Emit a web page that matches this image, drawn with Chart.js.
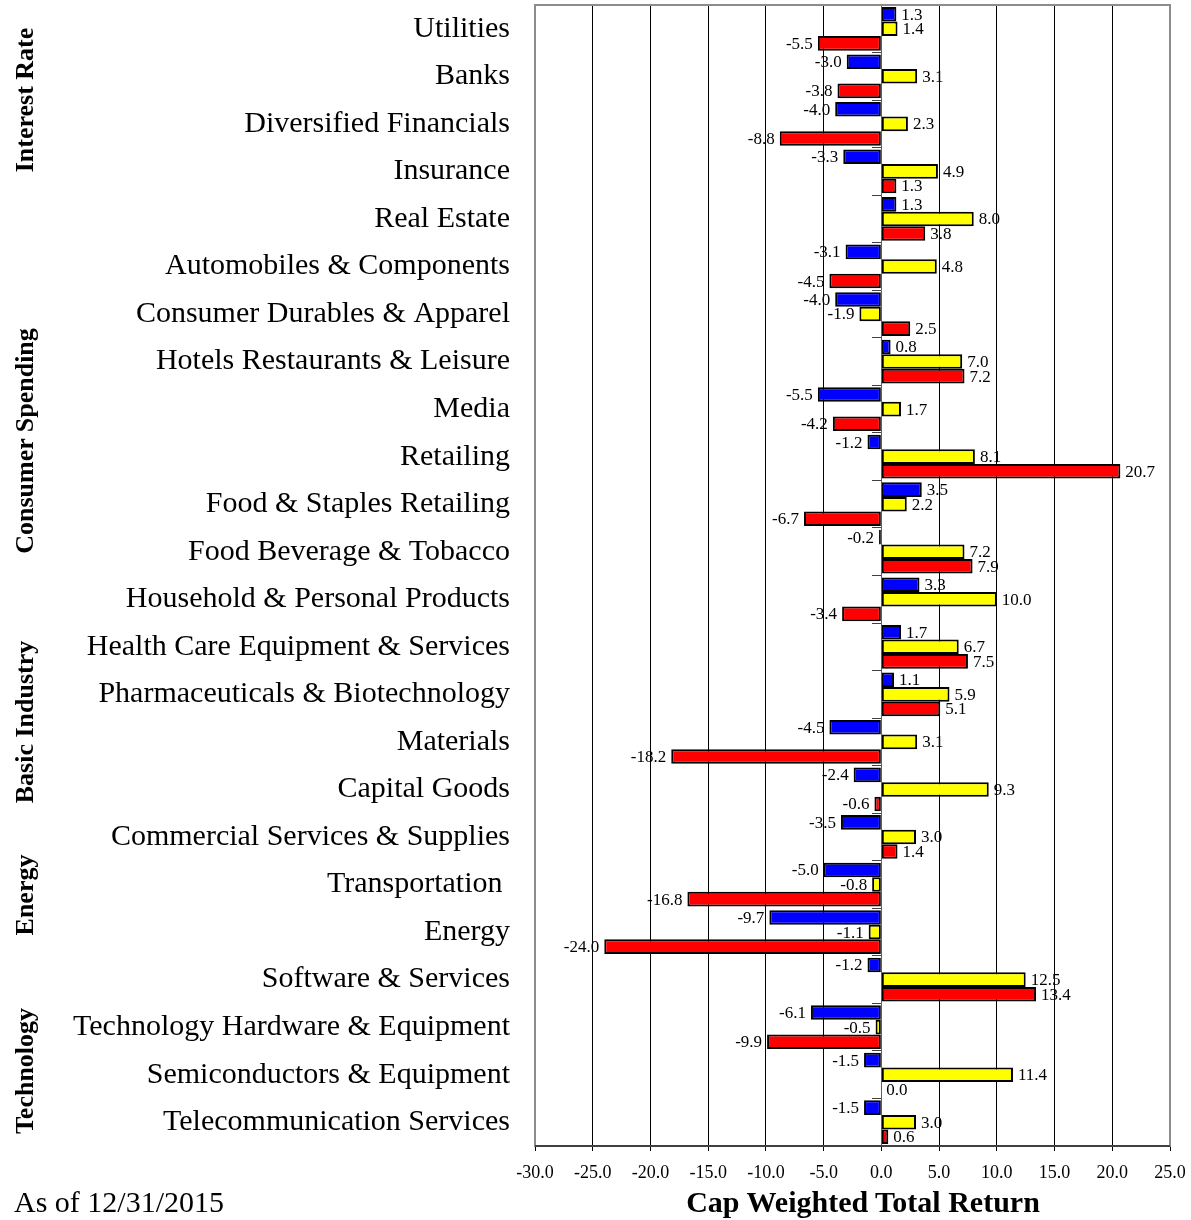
<!DOCTYPE html>
<html>
<head>
<meta charset="utf-8">
<script src="https://cdn.jsdelivr.net/npm/chart.js@4.4.1/dist/chart.umd.min.js"></script>
<style>
  body { margin: 0; background: #fff; }
  #wrap {
    position: relative;
    width: 1191px;
    height: 1220px;
    font-family: 'Liberation Serif', 'Times New Roman', serif;
    color: #000;
  }
  .group {
    position: absolute;
    left: 25px;
    transform: translate(-50%, -50%) rotate(-90deg);
    font-weight: bold;
    font-size: 26px;
    white-space: nowrap;
  }
  #asof { position: absolute; left: 14px; top: 1184px; font-size: 30px; line-height: 36px; }
  #xtitle {
    position: absolute; left: 863px; top: 1202px;
    transform: translate(-50%, -50%);
    font-size: 30px; font-weight: bold; white-space: nowrap;
  }
</style>
</head>
<body>
<div id="wrap">
  <canvas id="chart"></canvas>
  <div class="group" style="top:100px">Interest Rate</div>
  <div class="group" style="top:441px">Consumer Spending</div>
  <div class="group" style="top:722px">Basic Industry</div>
  <div class="group" style="top:895px">Energy</div>
  <div class="group" style="top:1071px">Technology</div>
  <div id="xtitle">Cap Weighted Total Return</div>
  <div id="asof">As of 12/31/2015</div>
</div>
<script>
  // Данные графика
  const categories = [
    'Utilities', 'Banks', 'Diversified Financials', 'Insurance', 'Real Estate',
    'Automobiles & Components', 'Consumer Durables & Apparel', 'Hotels Restaurants & Leisure',
    'Media', 'Retailing', 'Food & Staples Retailing', 'Food Beverage & Tobacco',
    'Household & Personal Products', 'Health Care Equipment & Services',
    'Pharmaceuticals & Biotechnology', 'Materials', 'Capital Goods',
    'Commercial Services & Supplies', 'Transportation ', 'Energy', 'Software & Services',
    'Technology Hardware & Equipment', 'Semiconductors & Equipment', 'Telecommunication Services'
  ];
  const blueValues = [1.3, -3.0, -4.0, -3.3, 1.3, -3.1, -4.0, 0.8, -5.5, -1.2, 3.5, -0.2,
    3.3, 1.7, 1.1, -4.5, -2.4, -3.5, -5.0, -9.7, -1.2, -6.1, -1.5, -1.5];
  const yellowValues = [1.4, 3.1, 2.3, 4.9, 8.0, 4.8, -1.9, 7.0, 1.7, 8.1, 2.2, 7.2,
    10.0, 6.7, 5.9, 3.1, 9.3, 3.0, -0.8, -1.1, 12.5, -0.5, 11.4, 3.0];
  const redValues = [-5.5, -3.8, -8.8, 1.3, 3.8, -4.5, 2.5, 7.2, -4.2, 20.7, -6.7, 7.9,
    -3.4, 7.5, 5.1, -18.2, -0.6, 1.4, -16.8, -24.0, 13.4, -9.9, 0.0, 0.6];
  const xMin = -30;
  const xMax = 25;
  const xStep = 5;

  const FONT = "'Liberation Serif', 'Times New Roman', serif";

  // Рамка области построения
  const framePlugin = {
    id: 'frame',
    beforeDatasetsDraw(chart) {
      const { ctx, chartArea: a } = chart;
      ctx.save();
      ctx.strokeStyle = '#8c8c8c';
      ctx.lineWidth = 2;
      ctx.strokeRect(a.left, a.top, a.right - a.left, a.bottom - a.top);
      ctx.strokeStyle = '#404040';
      ctx.beginPath();
      ctx.moveTo(a.left, a.bottom);
      ctx.lineTo(a.right, a.bottom);
      ctx.stroke();
      ctx.restore();
    }
  };

  // Подписи значений у концов столбцов
  const valueLabels = {
    id: 'valueLabels',
    afterDatasetsDraw(chart) {
      const ctx = chart.ctx;
      ctx.save();
      ctx.font = '17px ' + FONT;
      ctx.fillStyle = '#000';
      ctx.textBaseline = 'middle';
      chart.data.datasets.forEach((ds, i) => {
        chart.getDatasetMeta(i).data.forEach((bar, j) => {
          const v = ds.data[j];
          const neg = v < 0;
          ctx.textAlign = neg ? 'right' : 'left';
          ctx.fillText(v.toFixed(1), bar.x + (neg ? -5 : 5), bar.y + 1);
        });
      });
      ctx.restore();
    }
  };

  const ctx = document.getElementById('chart').getContext('2d');
  new Chart(ctx, {
    type: 'bar',
    data: {
      labels: categories,
      datasets: [
        { label: 'Series 1', data: blueValues, backgroundColor: '#0000ff' },
        { label: 'Series 2', data: yellowValues, backgroundColor: '#ffff00' },
        { label: 'Series 3', data: redValues, backgroundColor: '#ff0000' }
      ]
    },
    options: {
      indexAxis: 'y',
      responsive: true,
      maintainAspectRatio: false,
      animation: false,
      layout: { padding: { left: 0, right: 21, top: 5, bottom: 0 } },
      datasets: {
        bar: {
          borderColor: '#000',
          borderWidth: 2,
          borderSkipped: false,
          categoryPercentage: 0.92,
          barPercentage: 1.0
        }
      },
      scales: {
        x: {
          min: xMin,
          max: xMax,
          ticks: {
            stepSize: xStep,
            color: '#000',
            padding: 11,
            font: { family: FONT, size: 18 },
            callback: v => Number(v).toFixed(1)
          },
          grid: {
            color: c => (c.tick && c.tick.value === 0 ? 'rgba(0,0,0,0)' : '#000'),
            tickColor: '#000',
            tickLength: 5,
            lineWidth: 1
          },
          border: { color: '#404040', width: 2 },
          afterFit(scale) {
            scale.height = 74;
            scale.paddingLeft = 0;
            scale.paddingRight = 0;
          }
        },
        y: {
          grid: { display: false },
          border: { display: false },
          ticks: {
            color: '#000',
            padding: 17,
            autoSkip: false,
            font: { family: FONT, size: 30 }
          },
          afterFit(scale) {
            scale.width = 535;
            scale.paddingTop = 0;
            scale.paddingBottom = 0;
          }
        },
        // ось категорий на нуле — только засечки
        y0: {
          type: 'category',
          position: { x: 0 },
          offset: true,
          grid: { offset: true, drawOnChartArea: false, tickLength: 9, color: '#404040' },
          border: { display: true, color: '#606060', width: 1 },
          ticks: { display: false },
          afterFit(scale) {
            scale.paddingTop = 0;
            scale.paddingBottom = 0;
          }
        }
      },
      plugins: {
        legend: { display: false },
        tooltip: { enabled: false }
      }
    },
    plugins: [framePlugin, valueLabels]
  });
</script>
</body>
</html>
